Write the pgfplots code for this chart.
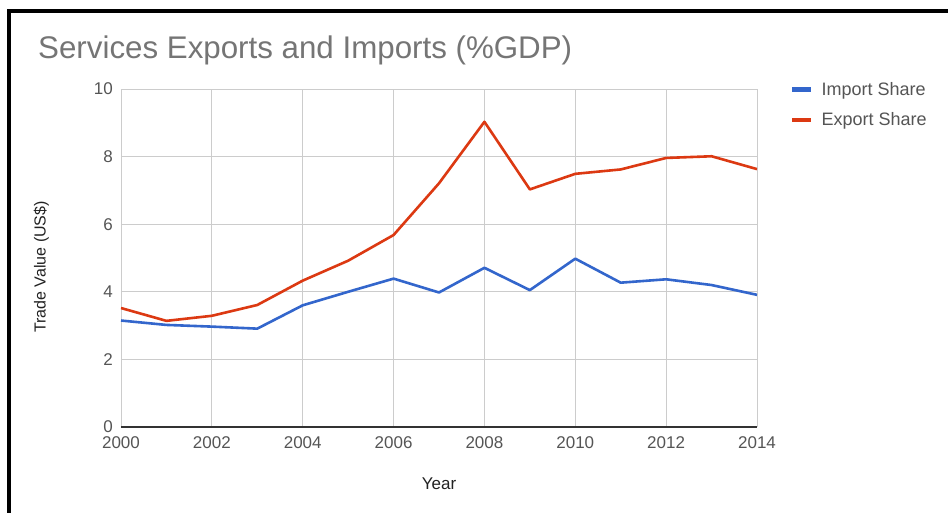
\documentclass[border=0pt]{standalone}
\usepackage{pgfplots}
\pgfplotsset{compat=1.18}
\usepackage{fontspec}
\setmainfont{Liberation Sans}
\definecolor{gblue}{HTML}{3366CC}
\definecolor{gred}{HTML}{DC3912}
\definecolor{ttl}{HTML}{757575}
\definecolor{tickc}{HTML}{555555}
\definecolor{gridc}{HTML}{CCCCCC}
\definecolor{labc}{HTML}{222222}
\begin{document}
\begin{tikzpicture}
\useasboundingbox (0pt,0pt) rectangle (948pt,512pt);
\fill[white] (0pt,0pt) rectangle (948pt,512pt);
\draw[line width=3.5pt] (9pt,-10pt) -- (9pt,501pt) -- (960pt,501pt);
\node[anchor=west, text=ttl, font=\fontsize{31.3}{35}\selectfont, inner sep=0] at (38pt,462pt) {Services Exports and Imports (\%GDP)};
\begin{axis}[at={(121pt,85pt)}, anchor=south west, scale only axis,
  width=636pt, height=338pt,
  xmin=2000, xmax=2014, ymin=0, ymax=10,
  xtick={2000,2002,...,2014}, ytick={0,2,...,10},
  grid=major, major grid style={draw=gridc, line width=0.9pt},
  axis line style={draw=none}, tick style={draw=none},
  /pgf/number format/assume math mode=true,
  /pgf/number format/1000 sep={},
  xticklabel style={font=\fontsize{17}{20}\selectfont, text=tickc, inner sep=0pt, anchor=north, yshift=-9pt},
  yticklabel style={font=\fontsize{17}{20}\selectfont, text=tickc, inner sep=0pt, anchor=east, xshift=-8pt},
  xlabel={Year},
  xlabel style={font=\fontsize{17}{20}\selectfont, text=labc, at={(axis description cs:0.5,-0.1686)}, anchor=center},
  ylabel={Trade Value (US\$)},
  ylabel style={font=\fontsize{16}{19}\selectfont, text=labc, at={(axis description cs:-0.1252,0.4734)}, anchor=center},
  legend style={at={(1,1)}, anchor=north west, xshift=33pt, yshift=9pt, draw=none, fill=none,
    font=\fontsize{18}{21}\selectfont, text=tickc, inner sep=0pt, row sep=12pt,
    /tikz/every odd column/.append style={column sep=6pt}},
  legend cell align=left,
  legend image code/.code={\draw[#1, line width=4.5pt] (0pt,0pt) -- (19pt,0pt);},
]
\addplot[gblue, line width=2.6pt, line join=round] coordinates {
(2000,3.15) (2001,3.02) (2002,2.97) (2003,2.91) (2004,3.60) (2005,4.00) (2006,4.39) (2007,3.98)
(2008,4.71) (2009,4.05) (2010,4.98) (2011,4.27) (2012,4.37) (2013,4.20) (2014,3.91)};
\addlegendentry{Import Share}
\addplot[gred, line width=2.6pt, line join=round] coordinates {
(2000,3.52) (2001,3.14) (2002,3.29) (2003,3.61) (2004,4.33) (2005,4.92) (2006,5.68) (2007,7.21)
(2008,9.03) (2009,7.03) (2010,7.49) (2011,7.62) (2012,7.96) (2013,8.01) (2014,7.63)};
\addlegendentry{Export Share}
\draw[draw=black!80, line width=1.6pt] (rel axis cs:0,0) -- (rel axis cs:1,0);
\end{axis}
\end{tikzpicture}
\end{document}
